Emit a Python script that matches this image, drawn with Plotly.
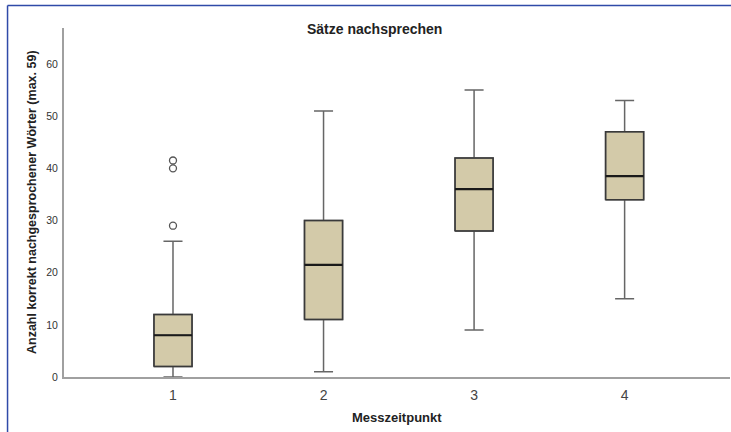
import plotly.graph_objects as go

# ---- data ----
categories = [1, 2, 3, 4]
tick_labels = ["1", "2", "3", "4"]
q1 = [2, 11, 28, 34]
median = [8, 21.5, 36, 38.5]
q3 = [12, 30, 42, 47]
lower_whisker = [0, 1, 9, 15]
upper_whisker = [26, 51, 55, 53]
outlier_x = [1, 1, 1]
outlier_y = [29, 40, 41.5]

title_text = "Sätze nachsprechen"
x_title = "Messzeitpunkt"
y_title = "Anzahl korrekt nachgesprochener Wörter (max. 59)"

# ---- styling ----
W, H = 731, 432
ML, MR, MT, MB = 63.5, 1, 28, 54.5
BOX_W = 0.253
FILL = "#D3CAA9"
WHISKER = "#666666"
EDGE = "#3a3a3a"
FONT = "Liberation Sans, Arial, sans-serif"

fig = go.Figure()
fig.add_trace(go.Box(
    x=categories, q1=q1, median=median, q3=q3,
    lowerfence=lower_whisker, upperfence=upper_whisker,
    fillcolor=FILL, line=dict(color=WHISKER, width=1.5),
    width=BOX_W, whiskerwidth=0.5, boxpoints=False,
    showlegend=False, hoverinfo="skip",
))

# darker box outlines and thicker median lines
for c, a, m, b in zip(categories, q1, median, q3):
    fig.add_trace(go.Scatter(
        x=[c - BOX_W / 2, c + BOX_W / 2, c + BOX_W / 2, c - BOX_W / 2, c - BOX_W / 2],
        y=[a, a, b, b, a], mode="lines",
        line=dict(color=EDGE, width=1.5), showlegend=False, hoverinfo="skip",
    ))
    fig.add_trace(go.Scatter(
        x=[c - BOX_W / 2, c + BOX_W / 2], y=[m, m], mode="lines",
        line=dict(color="#1a1a1a", width=2.2), showlegend=False, hoverinfo="skip",
    ))

fig.add_trace(go.Scatter(
    x=outlier_x, y=outlier_y, mode="markers",
    marker=dict(symbol="circle-open", size=7, color="#555555", line=dict(width=1.3)),
    showlegend=False, hoverinfo="skip",
))

plot_w = W - ML - MR
plot_h = H - MT - MB

fig.update_layout(
    width=W, height=H,
    margin=dict(l=ML, r=MR, t=MT, b=MB, pad=0),
    paper_bgcolor="white", plot_bgcolor="white",
    font=dict(family=FONT, color="#333333"),
    xaxis=dict(
        range=[0.276, 4.70], tickmode="array", tickvals=categories, ticktext=tick_labels,
        showgrid=False, zeroline=False, showline=True, linecolor="#a0a0a0", linewidth=2,
        ticks="", tickfont=dict(size=14, color="#444444"), ticklabelstandoff=4,
    ),
    yaxis=dict(
        range=[0, 66.9], tickmode="array", tickvals=[0, 10, 20, 30, 40, 50, 60],
        showgrid=False, zeroline=False, showline=True, linecolor="#a0a0a0", linewidth=2,
        ticks="", tickfont=dict(size=10.5, color="#333333"), ticklabelstandoff=2,
    ),
    annotations=[
        dict(text="<b>%s</b>" % title_text, xref="paper", yref="paper",
             x=(374.5 - ML) / plot_w, y=1, yanchor="middle", xanchor="center",
             yshift=-0.5, showarrow=False, font=dict(size=14, color="#222222")),
        dict(text="<b>%s</b>" % x_title, xref="paper", yref="paper",
             x=0.5, y=0, xanchor="center", yanchor="middle", yshift=-40.5,
             showarrow=False, font=dict(size=13, color="#222222")),
        dict(text="<b>%s</b>" % y_title, xref="paper", yref="paper",
             x=0, y=0.5, xanchor="center", yanchor="middle", xshift=-32.5,
             textangle=-90, showarrow=False, font=dict(size=12.5, color="#222222")),
    ],
    shapes=[
        dict(type="line", xref="paper", yref="paper",
             x0=(7 - ML) / plot_w, x1=(W + 5 - ML) / plot_w,
             y0=(H - MB - 5.5) / plot_h, y1=(H - MB - 5.5) / plot_h,
             line=dict(color="#2f4aa8", width=1.5)),
        dict(type="line", xref="paper", yref="paper",
             x0=(7 - ML) / plot_w, x1=(7 - ML) / plot_w,
             y0=(H - MB - 5.5) / plot_h, y1=-(MB + 5) / plot_h,
             line=dict(color="#2f4aa8", width=1.5)),
    ],
)

fig.write_html("out.html")
